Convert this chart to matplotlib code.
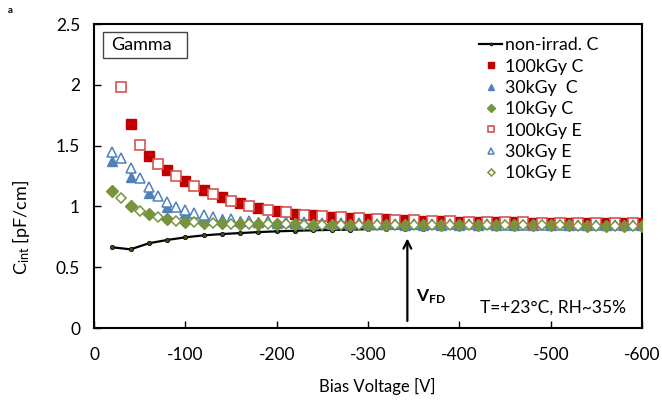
import matplotlib
matplotlib.use("Agg")
import matplotlib.pyplot as plt
from matplotlib.patches import Rectangle

plt.rcParams['font.family'] = ['Lato', 'DejaVu Sans']
plt.rcParams['mathtext.fontset'] = 'custom'
plt.rcParams['mathtext.rm'] = 'Lato'
plt.rcParams['mathtext.it'] = 'Lato:italic'
plt.rcParams['mathtext.bf'] = 'Lato:bold'
plt.rcParams['axes.unicode_minus'] = False

# non-irradiated, measured every -20 V
v_non = [-20, -40, -60, -80, -100, -120, -140, -160, -180, -200, -220, -240, -260, -280, -300,
         -320, -340, -360, -380, -400, -420, -440, -460, -480, -500, -520, -540, -560, -580, -600]
c_non = [0.664, 0.647, 0.697, 0.724, 0.746, 0.762, 0.773, 0.781, 0.789, 0.795, 0.800, 0.804, 0.807, 0.810, 0.813,
         0.815, 0.817, 0.818, 0.820, 0.821, 0.822, 0.823, 0.824, 0.825, 0.826, 0.827, 0.828, 0.828, 0.829, 0.830]

# 100kGy C (filled squares)
v_100c = [-40, -60, -80, -100, -120, -140, -160, -180, -200, -220, -240, -260, -280, -300, -320, -340,
          -360, -380, -400, -420, -440, -460, -480, -500, -520, -540, -560, -580, -600]
c_100c = [1.675, 1.417, 1.300, 1.209, 1.135, 1.075, 1.025, 0.990, 0.960, 0.940, 0.929, 0.915, 0.908, 0.898, 0.893, 0.886,
          0.882, 0.878, 0.875, 0.872, 0.870, 0.868, 0.866, 0.864, 0.863, 0.862, 0.861, 0.860, 0.860]

# 30kGy C (filled triangles)
v_30c = [-20, -40, -60, -80, -100, -120, -140, -160, -180, -200, -220, -240, -260, -280, -300, -320, -340,
         -360, -380, -400, -420, -440, -460, -480, -500, -520, -540, -560, -580, -600]
c_30c = [1.376, 1.244, 1.108, 0.998, 0.948, 0.915, 0.895, 0.882, 0.873, 0.867, 0.862, 0.859, 0.857, 0.855, 0.853, 0.852, 0.851,
         0.850, 0.849, 0.848, 0.848, 0.847, 0.847, 0.846, 0.846, 0.846, 0.845, 0.845, 0.845, 0.845]

# 10kGy C (filled diamonds)
v_10c = v_30c
c_10c = [1.129, 1.006, 0.935, 0.896, 0.874, 0.866, 0.860, 0.857, 0.855, 0.853, 0.852, 0.851, 0.850, 0.849, 0.848, 0.848, 0.847,
         0.847, 0.846, 0.846, 0.845, 0.845, 0.845, 0.844, 0.844, 0.844, 0.843, 0.843, 0.843, 0.843]

# 100kGy E (open squares), every -20 V from -30
v_100e = [-30, -50, -70, -90, -110, -130, -150, -170, -190, -210, -230, -250, -270, -290, -310, -330,
          -350, -370, -390, -410, -430, -450, -470, -490, -510, -530, -550, -570, -590]
c_100e = [1.980, 1.505, 1.346, 1.250, 1.168, 1.100, 1.047, 1.003, 0.970, 0.951, 0.932, 0.920, 0.911, 0.903, 0.897, 0.891,
          0.886, 0.882, 0.878, 0.875, 0.873, 0.871, 0.869, 0.867, 0.866, 0.865, 0.864, 0.863, 0.862]

# 30kGy E (open triangles)
v_30e = [-20, -30, -40, -50, -60, -70, -80, -90, -100, -110, -120, -130, -150, -170, -190, -210, -230, -250, -270, -290,
         -310, -330, -350, -370, -390, -410, -430, -450, -470, -490, -510, -530, -550, -570, -590]
c_30e = [1.450, 1.395, 1.313, 1.231, 1.157, 1.088, 1.039, 0.998, 0.970, 0.943, 0.929, 0.912, 0.895, 0.884, 0.877, 0.872,
         0.868, 0.865, 0.862, 0.860, 0.858, 0.857, 0.856, 0.855, 0.854, 0.853, 0.852, 0.851, 0.851, 0.850, 0.850, 0.849,
         0.849, 0.848, 0.848]

# 10kGy E (open diamonds)
v_10e = v_100e
c_10e = [1.067, 0.965, 0.915, 0.882, 0.869, 0.862, 0.858, 0.855, 0.853, 0.852, 0.851, 0.850, 0.849, 0.848, 0.848, 0.847,
         0.847, 0.846, 0.846, 0.845, 0.845, 0.845, 0.844, 0.844, 0.844, 0.843, 0.843, 0.843, 0.843]

red = '#C00000'
red_open = '#D9534F'
blue = '#4F81BD'
green = '#77933C'

fig = plt.figure(figsize=(6.62, 4.01), dpi=100)
ax = fig.add_axes([0.142, 0.182, 0.828, 0.758])

ax.plot(v_non, c_non, color='black', lw=1.6, marker='o', ms=3.2,
        mfc='#3a4a18', mec='black', mew=0.5, label='non-irrad. C', zorder=2)
ax.plot(v_100c, c_100c, ls='none', marker='s', ms=7, color=red, label='100kGy C', zorder=3)
ax.plot(v_30c, c_30c, ls='none', marker='^', ms=7.5, color=blue, label='30kGy  C', zorder=3)
ax.plot(v_10c, c_10c, ls='none', marker='D', ms=5.8, color=green, label='10kGy C', zorder=3)
ax.plot(v_100e, c_100e, ls='none', marker='s', ms=7, mfc='white', mec=red_open, mew=1.2,
        label='100kGy E', zorder=3)
ax.plot(v_30e, c_30e, ls='none', marker='^', ms=7.5, mfc='white', mec=blue, mew=1.1,
        label='30kGy E', zorder=3)
ax.plot(v_10e, c_10e, ls='none', marker='D', ms=5.5, mfc='white', mec=green, mew=1.1,
        label='10kGy E', zorder=3)

ax.set_xlim(0, -600)
ax.set_ylim(0, 2.5)
xt = [0, -100, -200, -300, -400, -500, -600]
ax.set_xticks(xt)
ax.set_xticklabels([str(v) for v in xt])
ax.set_yticks([0, 0.5, 1, 1.5, 2, 2.5])
ax.set_yticklabels(['0', '0.5', '1', '1.5', '2', '2.5'])
ax.tick_params(direction='in', length=5, width=1, labelsize=12.5)
ax.tick_params(axis='x', pad=14)
ax.tick_params(axis='y', pad=10)
for s in ax.spines.values():
    s.set_linewidth(1.5)

ax.set_xlabel('Bias Voltage [V]', fontsize=12)
ax.xaxis.set_label_coords(0.516, -0.165)
ax.set_ylabel(r'C$_{\mathrm{int}}$ [pF/cm]', fontsize=13)
ax.yaxis.set_label_coords(-0.113, 0.33)

leg = ax.legend(loc='upper left', bbox_to_anchor=(0.69, 0.98), frameon=False, fontsize=12.8,
                handlelength=1.3, handletextpad=0.15, labelspacing=0.3, borderaxespad=0,
                markerscale=0.65)

# "Gamma" box
ax.add_patch(Rectangle((0.0164, 0.888), 0.154, 0.086, transform=ax.transAxes,
                       fc='white', ec='#444444', lw=1, zorder=4))
ax.text(0.031, 0.931, 'Gamma', transform=ax.transAxes, fontsize=13, va='center', ha='left', zorder=5)

ax.annotate('', xy=(-343, 0.76), xytext=(-343, 0.035),
            arrowprops=dict(arrowstyle='->', color='black', lw=1.6, mutation_scale=14))
ax.text(-353, 0.26, r'$\mathbf{V}_{\mathbf{FD}}$', fontsize=12.5, va='center', ha='left')
ax.text(-422, 0.165, 'T=+23°C, RH~35%', fontsize=12.5, va='center', ha='left')

fig.text(0.012, 0.975, 'a', fontsize=7, fontweight='bold', va='center', ha='left')

fig.savefig('out.png', dpi=100)
